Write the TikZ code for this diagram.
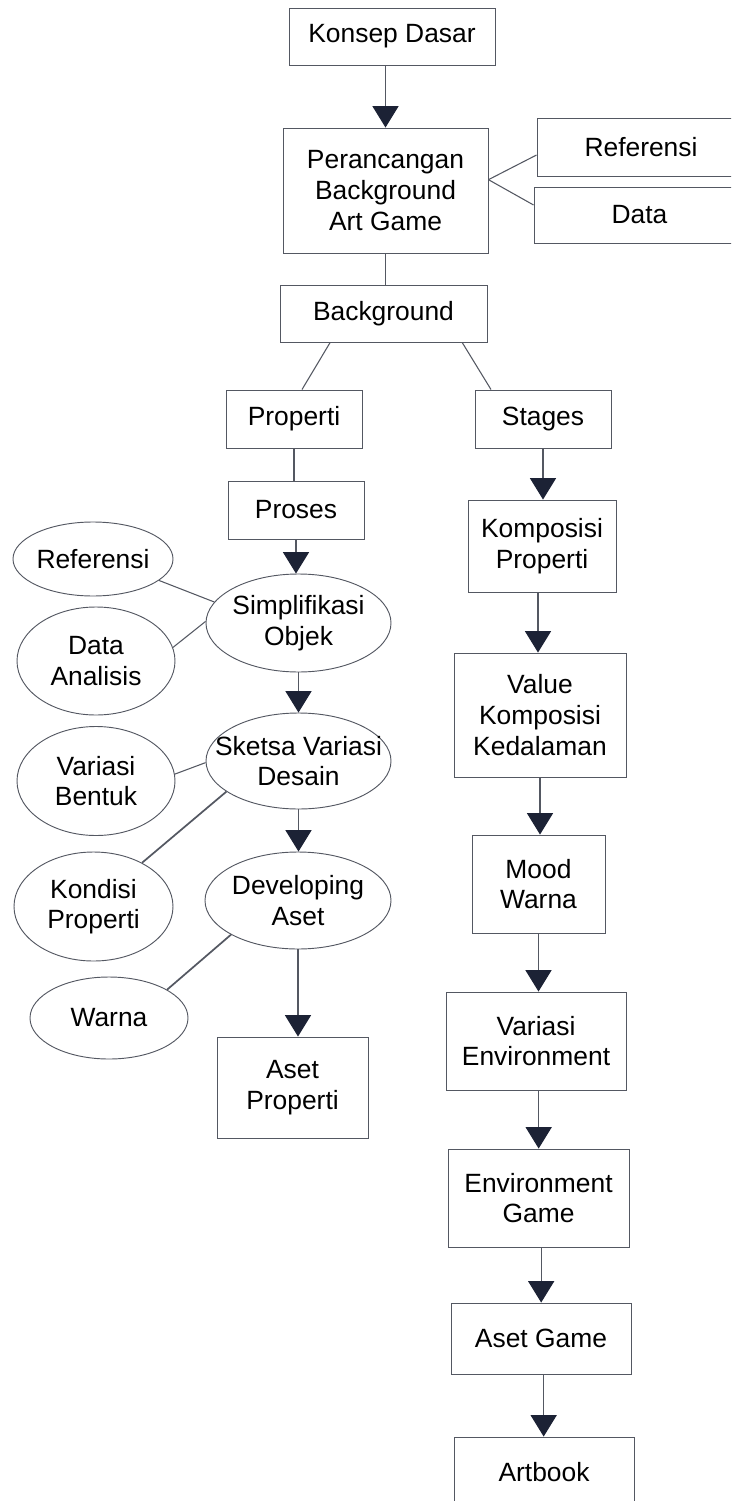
\documentclass[tikz,border=0pt]{standalone}
\usepackage{fontspec}
\setmainfont{Liberation Sans}
\usetikzlibrary{shapes.geometric,arrows.meta}

\definecolor{linecol}{HTML}{545862}
\definecolor{headcol}{HTML}{1C2235}

\tikzset{
	box/.style={draw=linecol, line width=0.7pt, inner sep=0pt, align=center, font=\fontsize{19.8}{23}\selectfont},
	oval/.style={ellipse, draw=linecol, line width=0.7pt, inner ysep=0pt, inner xsep=-16pt, align=center, font=\fontsize{19.8}{23}\selectfont},
	link/.style={draw=linecol, line width=0.8pt},
	arrow/.style={draw=linecol, line width=0.8pt, -{Triangle[width=19.5pt,length=16pt,color=headcol]}}
}

\begin{document}
\begin{tikzpicture}[x=0.75pt,y=-0.75pt]
\useasboundingbox (0,0) rectangle (731,1501);
\clip (0,0) rectangle (731,1501);

% top part
\node (konsep) at (392,36.5) [box,minimum width=154.5pt,minimum height=42.75pt] {Konsep Dasar};
\node (rancang) at (385.5,190.5) [box,minimum width=153.75pt,minimum height=93.75pt] {Perancangan\\Background\\Art Game};
\node (referensi) at (641,147) [box,minimum width=156pt,minimum height=43.5pt] {Referensi};
\node (data) at (639.5,215) [box,minimum width=158.25pt,minimum height=42pt] {Data};
\node (background) at (383.5,313.5) [box,minimum width=155.25pt,minimum height=42.75pt] {Background};

% left branch
\node (properti) at (294,419) [box,minimum width=102pt,minimum height=43.5pt] {Properti};
\node (proses) at (296,510) [box,minimum width=102pt,minimum height=43.5pt] {Proses};
\node (simplifikasi) at (298.5,623) [oval,minimum width=138.75pt,minimum height=73.5pt] {Simplifikasi\\Objek};
\node (sketsa) at (298.5,761) [oval,minimum width=138.75pt,minimum height=72pt] {Sketsa Variasi\\Desain};
\node (developing) at (298,900.5) [oval,minimum width=139.5pt,minimum height=72.75pt] {Developing\\Aset};
\node (asetprop) at (292.5,1087.5) [box,minimum width=113.25pt,minimum height=75.75pt] {Aset\\Properti};

\node (ereferensi) at (93,559) [oval,minimum width=120pt,minimum height=55.5pt] {Referensi};
\node (analisis) at (96,661) [oval,minimum width=118.5pt,minimum height=81pt] {Data\\Analisis};
\node (bentuk) at (96,781) [oval,minimum width=118.5pt,minimum height=81.75pt] {Variasi\\Bentuk};
\node (kondisi) at (93.5,906.5) [oval,minimum width=119.25pt,minimum height=81.75pt] {Kondisi\\Properti};
\node (warna) at (109,1018) [oval,minimum width=118.5pt,minimum height=61.5pt] {Warna};

% right branch
\node (stages) at (543,419) [box,minimum width=102pt,minimum height=43.5pt] {Stages};
\node (komposisi) at (542,546) [box,minimum width=111pt,minimum height=69pt] {Komposisi\\Properti};
\node (value) at (540,715) [box,minimum width=129pt,minimum height=93pt] {Value\\Komposisi\\Kedalaman};
\node (mood) at (538.5,884) [box,minimum width=99.75pt,minimum height=73.5pt] {Mood\\Warna};
\node (varenv) at (536,1041) [box,minimum width=135pt,minimum height=73.5pt] {Variasi\\Environment};
\node (envgame) at (538.5,1198) [box,minimum width=135.75pt,minimum height=73.5pt] {Environment\\Game};
\node (asetgame) at (541,1338.5) [box,minimum width=135pt,minimum height=53.25pt] {Aset Game};
\node (artbook) at (544,1472.5) [box,minimum width=135pt,minimum height=53.25pt] {Artbook};

% connectors
\draw [arrow] (konsep.south -| rancang.north) -- (rancang.north);
\draw [link] (rancang.6) -- ([yshift=-6pt]referensi.west);
\draw [link] (rancang.6) -- ([yshift=7.5pt]data.west);
\draw [link] (rancang.south) -- (rancang.south |- background.north);
\draw [link] ([xshift=-40pt]background.south) -- ([xshift=6pt]properti.north);
\draw [link] ([xshift=59pt]background.south) -- ([xshift=-39pt]stages.north);
\draw [link] (properti.south) -- (properti.south |- proses.north);

\draw [arrow] (proses.south) -- (proses.south |- simplifikasi.north);
\draw [arrow] (simplifikasi.south) -- (simplifikasi.south |- sketsa.north);
\draw [arrow] (sketsa.south) -- (sketsa.south |- developing.north);
\draw [arrow] (developing.south) -- (developing.south |- asetprop.north);

\draw [link] (ereferensi.-18) -- (simplifikasi.166);
\draw [link] (analisis.10) -- (simplifikasi.179);
\draw [link] (bentuk.5) -- (sketsa.181);
\draw [link, line width=1.3pt] (kondisi.42) -- (sketsa.203);
\draw [link, line width=1.3pt] (warna.26) -- (developing.207);

\draw [arrow] (stages.south) -- (stages.south |- komposisi.north);
\draw [arrow] ([xshift=-3pt]komposisi.south) -- ([xshift=-3pt]komposisi.south |- value.north);
\draw [arrow] (value.south) -- (value.south |- mood.north);
\draw [arrow] (mood.south) -- (mood.south |- varenv.north);
\draw [arrow] ([xshift=2pt]varenv.south) -- ([xshift=2pt]varenv.south |- envgame.north);
\draw [arrow] ([xshift=2pt]envgame.south) -- ([xshift=2pt]envgame.south |- asetgame.north);
\draw [arrow] ([xshift=2pt]asetgame.south) -- ([xshift=2pt]asetgame.south |- artbook.north);

\end{tikzpicture}
\end{document}
